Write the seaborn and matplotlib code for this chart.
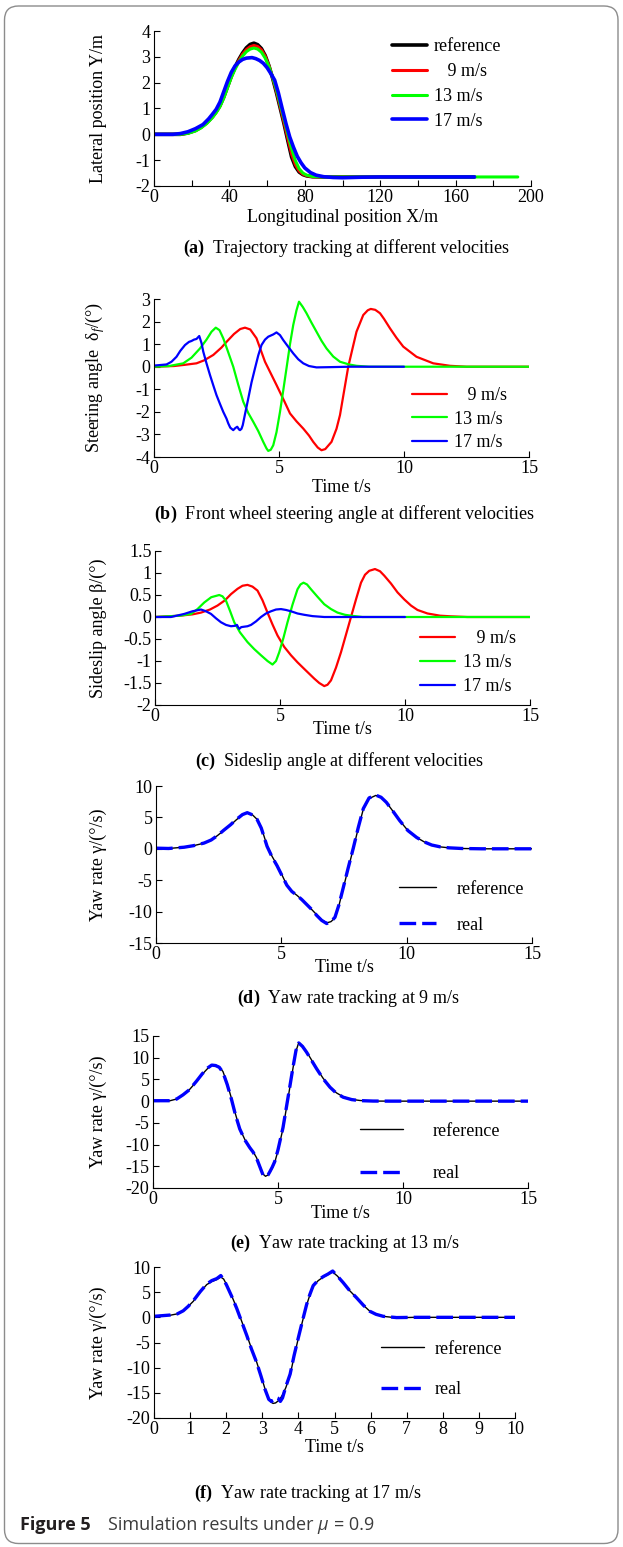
import matplotlib
matplotlib.use('Agg')
import matplotlib.pyplot as plt
import seaborn as sns
from matplotlib.patches import FancyBboxPatch
from matplotlib.transforms import blended_transform_factory

# ---------------- (a) trajectory, X/m vs Y/m
traj_ref_x = [0, 14, 18, 22, 25, 28, 31, 33, 35, 37, 39, 41, 43, 45, 47, 49, 51, 53, 55, 57,
              59, 61, 63, 65, 67, 69, 71, 73, 75, 77, 79, 81, 84, 90, 170]
traj_ref_y = [0, 0, 0.05, 0.15, 0.28, 0.45, 0.68, 0.88, 1.12, 1.45, 1.85, 2.25, 2.6, 2.9, 3.15, 3.35, 3.48, 3.53, 3.47, 3.32,
              3.05, 2.65, 2.15, 1.6, 1.0, 0.4, -0.25, -0.88, -1.25, -1.46, -1.56, -1.61, -1.64, -1.65, -1.65]
traj_9_x = [0, 14, 18, 22, 25, 28, 31, 33, 35, 37, 39, 41, 43, 45, 47, 49, 51, 53, 55, 57,
            59, 61, 63, 65, 67, 69, 71, 73, 75, 77, 79, 81, 84, 90, 135]
traj_9_y = [0, 0, 0.05, 0.15, 0.27, 0.44, 0.67, 0.86, 1.1, 1.43, 1.83, 2.22, 2.57, 2.86, 3.1, 3.28, 3.39, 3.44, 3.4, 3.27,
            3.02, 2.65, 2.18, 1.65, 1.06, 0.46, -0.16, -0.76, -1.17, -1.42, -1.54, -1.6, -1.64, -1.65, -1.65]
traj_13_x = [0, 14, 18, 22, 25, 28, 31, 33, 35, 37, 39, 41, 43, 45, 47, 49, 51, 53, 55, 57,
             59, 61, 63, 65, 67, 69, 71, 73, 75, 77, 79, 81, 84, 90, 193]
traj_13_y = [0, 0, 0.04, 0.13, 0.25, 0.42, 0.65, 0.84, 1.07, 1.4, 1.8, 2.2, 2.52, 2.8, 3.03, 3.2, 3.3, 3.34, 3.3, 3.18,
             2.95, 2.62, 2.2, 1.72, 1.15, 0.58, 0.0, -0.55, -1.02, -1.33, -1.5, -1.58, -1.63, -1.65, -1.65]
traj_17_x = [0, 10, 14, 18, 22, 26, 29, 31, 33, 35, 37, 39, 41, 43, 45, 47, 49, 52, 54, 56,
             58, 60, 62, 64, 66, 68, 70, 72, 74, 76, 78, 80, 83, 86, 90, 95, 100, 110, 120, 170]
traj_17_y = [0, 0, 0.03, 0.1, 0.22, 0.38, 0.6, 0.78, 0.97, 1.25, 1.65, 2.05, 2.4, 2.65, 2.8, 2.9, 2.95, 2.97, 2.93, 2.86,
             2.75, 2.58, 2.35, 2.1, 1.6, 1.0, 0.42, -0.1, -0.5, -0.85, -1.1, -1.3, -1.48, -1.58, -1.64, -1.67, -1.68, -1.66, -1.65, -1.65]

# ---------------- (b) front wheel steering angle
steer9_t = [0, 0.8, 1.2, 1.7, 2.0, 2.37, 2.7, 2.9, 3.2, 3.45, 3.64, 3.85, 4.1, 4.44, 4.9, 5.2, 5.44, 5.7, 5.97, 6.2,
            6.37, 6.55, 6.7, 6.85, 7.1, 7.3, 7.44, 7.6, 7.77, 7.95, 8.1, 8.37, 8.55, 8.67, 8.85, 9.04, 9.2, 9.44, 9.7, 9.97,
            10.5, 11.17, 11.84, 12.5, 15]
steer9_v = [0, 0.03, 0.08, 0.15, 0.28, 0.52, 0.85, 1.1, 1.45, 1.67, 1.73, 1.65, 1.26, 0.22, -0.81, -1.5, -2.07, -2.42, -2.74, -3.05,
            -3.33, -3.58, -3.7, -3.65, -3.33, -2.75, -2.14, -1.1, 0.0, 0.85, 1.55, 2.29, 2.5, 2.56, 2.52, 2.37, 2.12, 1.7, 1.28, 0.89,
            0.44, 0.15, 0.04, 0.0, 0.0]
steer13_t = [0, 0.6, 1.17, 1.5, 1.84, 2.1, 2.3, 2.47, 2.62, 2.77, 2.95, 3.17, 3.37, 3.57, 3.77, 3.97, 4.17, 4.37, 4.5, 4.57,
             4.67, 4.77, 4.9, 5.04, 5.17, 5.3, 5.44, 5.57, 5.7, 5.8, 5.95, 6.1, 6.3, 6.5, 6.7, 6.9, 7.17, 7.44, 7.8, 8.1,
             8.6, 15]
steer13_v = [0, 0.03, 0.15, 0.4, 0.81, 1.2, 1.55, 1.73, 1.62, 1.26, 0.7, 0.0, -0.8, -1.55, -2.05, -2.44, -2.85, -3.33, -3.62, -3.73,
             -3.68, -3.48, -2.9, -2.0, -1.05, -0.07, 1.0, 1.85, 2.5, 2.88, 2.65, 2.37, 1.95, 1.55, 1.15, 0.81, 0.45, 0.22, 0.1, 0.04,
             0.0, 0.0]
steer17_t = [0, 0.5, 0.7, 0.9, 1.05, 1.24, 1.4, 1.5, 1.6, 1.7, 1.81, 1.9, 1.97, 2.1, 2.24, 2.37, 2.5, 2.64, 2.77, 2.9,
             2.97, 3.05, 3.17, 3.25, 3.33, 3.4, 3.44, 3.5, 3.55, 3.65, 3.77, 3.9, 4.04, 4.17, 4.3, 4.44, 4.57, 4.77, 4.9, 5.04,
             5.17, 5.37, 5.57, 5.77, 5.97, 6.2, 6.5, 7.0, 7.84, 10]
steer17_v = [0.05, 0.1, 0.22, 0.44, 0.7, 0.96, 1.1, 1.14, 1.2, 1.23, 1.36, 1.05, 0.67, 0.15, -0.37, -0.82, -1.26, -1.65, -2.0, -2.3,
             -2.51, -2.7, -2.81, -2.72, -2.66, -2.78, -2.81, -2.75, -2.59, -2.05, -1.41, -0.7, -0.07, 0.5, 0.96, 1.2, 1.33, 1.43, 1.52, 1.4,
             1.18, 0.88, 0.59, 0.33, 0.15, 0.03, -0.03, -0.02, 0.0, 0.0]

# ---------------- (c) sideslip angle
slip9_t = [0, 1.0, 1.5, 1.84, 2.2, 2.5, 2.8, 3.04, 3.3, 3.5, 3.7, 3.9, 4.1, 4.3, 4.5, 4.7, 4.9, 5.17, 5.44, 5.7,
           5.97, 6.17, 6.37, 6.57, 6.77, 6.9, 7.04, 7.24, 7.44, 7.64, 7.84, 8.04, 8.24, 8.4, 8.57, 8.8, 9.0, 9.17, 9.44, 9.7,
           9.97, 10.24, 10.5, 10.9, 11.4, 11.84, 12.5, 15]
slip9_v = [0, 0.03, 0.06, 0.1, 0.17, 0.26, 0.38, 0.52, 0.64, 0.71, 0.73, 0.69, 0.6, 0.38, 0.1, -0.17, -0.42, -0.68, -0.87, -1.03,
           -1.18, -1.29, -1.4, -1.5, -1.57, -1.54, -1.44, -1.15, -0.8, -0.4, 0.0, 0.4, 0.78, 0.96, 1.05, 1.09, 1.04, 0.94, 0.76, 0.56,
           0.4, 0.26, 0.16, 0.08, 0.03, 0.015, 0.0, 0.0]
slip13_t = [0, 1.0, 1.44, 1.7, 1.97, 2.25, 2.57, 2.7, 2.84, 3.0, 3.17, 3.4, 3.7, 3.97, 4.24, 4.5, 4.7, 4.84, 4.97, 5.14,
            5.3, 5.5, 5.7, 5.82, 5.94, 6.08, 6.24, 6.5, 6.77, 7.04, 7.3, 7.6, 7.84, 8.3, 15]
slip13_v = [0, 0.03, 0.07, 0.18, 0.33, 0.45, 0.5, 0.47, 0.37, 0.14, -0.12, -0.35, -0.57, -0.73, -0.87, -1.0, -1.08, -1.0, -0.8, -0.47,
            -0.12, 0.28, 0.63, 0.74, 0.78, 0.74, 0.63, 0.46, 0.29, 0.18, 0.1, 0.05, 0.03, 0.0, 0.0]
slip17_t = [0, 0.64, 1.17, 1.5, 1.84, 2.04, 2.24, 2.44, 2.64, 2.84, 3.04, 3.2, 3.28, 3.33, 3.37, 3.45, 3.57, 3.7, 3.84, 4.04,
            4.24, 4.44, 4.64, 4.84, 5.04, 5.24, 5.44, 5.7, 5.97, 6.3, 6.77, 10]
slip17_v = [0, 0.0, 0.07, 0.13, 0.17, 0.13, 0.07, -0.03, -0.12, -0.18, -0.21, -0.2, -0.18, -0.24, -0.27, -0.23, -0.22, -0.21, -0.18, -0.1,
            0.0, 0.08, 0.13, 0.17, 0.18, 0.16, 0.13, 0.08, 0.05, 0.02, 0.0, 0.0]

# ---------------- (d) yaw rate at 9 m/s
yaw9_t = [0, 0.5, 1.12, 1.5, 1.92, 2.2, 2.45, 2.7, 2.98, 3.2, 3.45, 3.64, 3.85, 4.03, 4.2, 4.43, 4.63, 4.83, 5.03, 5.22,
          5.42, 5.62, 5.82, 6.02, 6.22, 6.41, 6.61, 6.81, 6.98, 7.14, 7.3, 7.47, 7.67, 7.87, 8.07, 8.27, 8.5, 8.77, 8.98, 9.19,
          9.45, 9.72, 10.05, 10.4, 10.7, 11.0, 11.35, 11.7, 12.2, 13, 15]
yaw9_ref = [0, 0.05, 0.26, 0.5, 0.9, 1.4, 2.1, 2.9, 3.8, 4.6, 5.4, 5.7, 5.4, 4.7, 3.4, 0.5, -1.2, -2.6, -4.2, -5.8,
            -6.8, -7.4, -8.1, -8.9, -9.7, -10.5, -11.3, -11.8, -11.6, -11.0, -9.0, -6.3, -3.1, 0.0, 3.3, 6.3, 8.0, 8.5, 8.2, 7.4,
            6.0, 4.5, 2.9, 1.8, 1.1, 0.6, 0.3, 0.15, 0.05, 0.0, 0.0]
yaw9_real = [0.1, 0.05, 0.25, 0.5, 0.92, 1.4, 2.1, 2.95, 3.85, 4.65, 5.45, 5.75, 5.4, 4.7, 3.3, 0.4, -1.3, -2.7, -4.3, -5.8,
             -6.8, -7.4, -8.1, -8.9, -9.7, -10.6, -11.4, -11.9, -11.6, -10.9, -8.9, -6.2, -3.0, 0.1, 3.4, 6.4, 8.1, 8.55, 8.2, 7.4,
             6.0, 4.5, 2.9, 1.8, 1.1, 0.6, 0.3, 0.15, 0.05, 0.0, 0.0]

# ---------------- (e) yaw rate at 13 m/s
yaw13_t = [0, 0.67, 0.95, 1.2, 1.45, 1.74, 1.97, 2.2, 2.35, 2.5, 2.65, 2.8, 2.97, 3.14, 3.3, 3.47, 3.67, 3.87, 4.0, 4.14,
           4.3, 4.4, 4.5, 4.6, 4.67, 4.77, 4.87, 5.0, 5.2, 5.4, 5.6, 5.72, 5.83, 5.98, 6.14, 6.34, 6.54, 6.8, 7.08, 7.34,
           7.61, 7.95, 8.28, 8.8, 9.5, 15]
yaw13_ref = [0, 0.08, 0.5, 1.4, 2.6, 4.5, 6.2, 7.6, 8.2, 8.3, 7.9, 6.8, 4.0, 0.6, -3.0, -6.3, -8.8, -10.6, -11.6, -13.0,
             -15.3, -16.8, -17.3, -17.0, -16.4, -15.4, -14.1, -11.4, -6.3, 0.6, 7.6, 11.5, 13.5, 12.7, 11.4, 9.5, 7.6, 5.3, 3.3, 1.9,
             1.0, 0.4, 0.15, 0.02, 0.0, 0.0]
yaw13_real = [0.1, 0.1, 0.5, 1.45, 2.6, 4.6, 6.3, 7.7, 8.3, 8.2, 7.8, 6.6, 3.8, 0.4, -3.2, -6.4, -8.9, -10.7, -11.7, -13.1,
              -15.5, -17.0, -17.4, -17.0, -16.3, -15.2, -13.9, -11.2, -6.1, 0.8, 7.8, 11.7, 13.4, 12.6, 11.3, 9.4, 7.5, 5.2, 3.2, 1.8,
              0.9, 0.35, 0.12, 0.02, 0.0, 0.0]

# ---------------- (f) yaw rate at 17 m/s
yaw17_t = [0, 0.44, 0.65, 0.81, 0.95, 1.09, 1.28, 1.46, 1.6, 1.74, 1.85, 1.93, 2.01, 2.15, 2.29, 2.43, 2.57, 2.7, 2.84, 2.96,
           3.07, 3.18, 3.25, 3.3, 3.37, 3.44, 3.5, 3.56, 3.65, 3.77, 3.88, 4.0, 4.12, 4.23, 4.32, 4.41, 4.55, 4.69, 4.82, 4.95,
           5.08, 5.24, 5.42, 5.61, 5.8, 5.98, 6.15, 6.35, 6.72, 7.2, 10]
yaw17_ref = [0.3, 0.4, 0.7, 1.3, 2.2, 3.2, 5.0, 6.5, 7.1, 7.5, 8.0, 7.6, 6.5, 4.3, 1.9, -0.8, -3.5, -6.2, -8.8, -11.5,
             -14.1, -16.2, -16.9, -17.1, -17.0, -16.6, -16.1, -15.4, -14.0, -11.5, -7.8, -4.1, -0.6, 2.5, 4.5, 6.2, 7.3, 8.0, 8.5, 9.0,
             8.2, 6.9, 5.3, 3.9, 2.4, 1.2, 0.6, 0.2, -0.1, 0.0, 0.0]
yaw17_real = [0.2, 0.45, 0.7, 1.3, 2.2, 3.3, 5.1, 6.6, 7.3, 7.7, 8.3, 7.5, 6.4, 4.2, 1.8, -0.9, -3.6, -6.3, -8.9, -11.6,
              -14.2, -16.3, -16.7, -16.5, -15.9, -16.1, -16.7, -16.0, -13.8, -11.3, -7.6, -4.0, -0.5, 2.6, 4.6, 6.3, 7.4, 8.1, 8.6, 9.2,
              8.2, 6.9, 5.3, 3.9, 2.4, 1.2, 0.6, 0.2, -0.05, 0.0, 0.0]

speed_labels = ['   9 m/s', '13 m/s', '17 m/s']
yaw_labels = ['reference', 'real']

captions = [r'$\mathbf{(a)}$  Trajectory tracking at different velocities',
            r'$\mathbf{(b)}$  Front wheel steering angle at different velocities',
            r'$\mathbf{(c)}$  Sideslip angle at different velocities',
            r'$\mathbf{(d)}$  Yaw rate tracking at 9 m/s',
            r'$\mathbf{(e)}$  Yaw rate tracking at 13 m/s',
            r'$\mathbf{(f)}$  Yaw rate tracking at 17 m/s']


W, H = 623, 1547
custom_params = {"axes.spines.right": False, "axes.spines.top": False,
                 "axes.edgecolor": "black", "xtick.color": "black", "ytick.color": "black",
                 "axes.labelcolor": "black", "text.color": "black",
                 "xtick.direction": "in", "ytick.direction": "in",
                 "xtick.major.size": 4, "ytick.major.size": 4,
                 "xtick.minor.size": 4, "xtick.major.width": 0.8, "ytick.major.width": 0.8,
                 "axes.linewidth": 0.8}
sns.set_theme(style="ticks", rc=custom_params)
plt.rcParams['font.family'] = ['Liberation Serif', 'DejaVu Serif']
plt.rcParams['mathtext.fontset'] = 'custom'
plt.rcParams['mathtext.rm'] = 'Liberation Serif'
plt.rcParams['mathtext.it'] = 'Liberation Serif:italic'
plt.rcParams['mathtext.bf'] = 'Liberation Serif:bold'
plt.rcParams['axes.unicode_minus'] = False
FS = 13

fig = plt.figure(figsize=(W / 100, H / 100), dpi=100)


def px_axes(l, r, t, b):
    return fig.add_axes([l / W, 1 - b / H, (r - l) / W, (b - t) / H])


def finish(ax, xlim, xticks, ylim, yticks, xlabel, ylabel, xlab_top):
    ax.set_xlim(xlim)
    ax.set_ylim(ylim)
    ax.set_xticks(xticks, [f'{v:g}' for v in xticks])
    ax.set_yticks(yticks, [f'{v:g}' for v in yticks])
    ax.tick_params(labelsize=FS, pad=2.5)
    ax.set_xlabel(xlabel, fontsize=FS)
    ax.set_ylabel(ylabel, fontsize=FS)
    ax.xaxis.set_label_coords(0.5, 1 - xlab_top / H,
                              transform=blended_transform_factory(ax.transAxes, fig.transFigure))
    ax.yaxis.set_label_coords(107 / W, 0.5,
                              transform=blended_transform_factory(fig.transFigure, ax.transAxes))


def legend(ax, hx, cy, hl, tp, ls):
    ax.legend(loc='center left', bbox_to_anchor=(hx, cy), frameon=False, fontsize=FS,
              handlelength=hl, handletextpad=tp, labelspacing=ls, borderpad=0, borderaxespad=0)


# (a)
ax = px_axes(154, 531, 31, 186)
sns.lineplot(x=traj_ref_x, y=traj_ref_y, color='black', lw=2.6, label='reference', ax=ax)
sns.lineplot(x=traj_9_x, y=traj_9_y, color='#ff0000', lw=2.2, label=speed_labels[0], ax=ax)
sns.lineplot(x=traj_13_x, y=traj_13_y, color='#00ff00', lw=2.2, label=speed_labels[1], ax=ax)
sns.lineplot(x=traj_17_x, y=traj_17_y, color='#0000ff', lw=2.6, label=speed_labels[2], ax=ax)
finish(ax, (0, 200), [0, 40, 80, 120, 160, 200], (-2, 4), [-2, -1, 0, 1, 2, 3, 4],
       'Longitudinal position X/m', 'Lateral position Y/m', 209)
ax.set_xticks([20, 60, 100, 140, 180], minor=True)
ax.tick_params(which='minor', direction='in', length=4, width=0.8)
legend(ax, 0.63, 0.658, 1.95, 0.4, 0.43)

# (b)
ax = px_axes(154, 529, 299, 457)
sns.lineplot(x=steer9_t, y=steer9_v, color='#ff0000', lw=1.6, label=speed_labels[0], ax=ax)
sns.lineplot(x=steer13_t, y=steer13_v, color='#00ff00', lw=1.6, label=speed_labels[1], ax=ax)
sns.lineplot(x=steer17_t, y=steer17_v, color='#0000ff', lw=1.6, label=speed_labels[2], ax=ax)
finish(ax, (0, 15), [0, 5, 10, 15], (-4, 3), [-4, -3, -2, -1, 0, 1, 2, 3],
       'Time t/s', r'Steering angle  δ$_{f}$/(°)', 479)
legend(ax, 0.688, 0.24, 1.95, 0.4, 0.36)

# (c)
ax = px_axes(155, 530, 551, 705)
sns.lineplot(x=slip9_t, y=slip9_v, color='#ff0000', lw=1.6, label=speed_labels[0], ax=ax)
sns.lineplot(x=slip13_t, y=slip13_v, color='#00ff00', lw=1.6, label=speed_labels[1], ax=ax)
sns.lineplot(x=slip17_t, y=slip17_v, color='#0000ff', lw=1.6, label=speed_labels[2], ax=ax)
finish(ax, (0, 15), [0, 5, 10, 15], (-2, 1.5), [-2, -1.5, -1, -0.5, 0, 0.5, 1, 1.5],
       'Time t/s', 'Sideslip angle β/(°)', 721)
legend(ax, 0.707, 0.276, 1.95, 0.4, 0.39)

# (d) (e) (f) yaw rate tracking
yaw_panels = [
    ((156, 532, 786, 943), yaw9_t, yaw9_ref, yaw9_real, (0, 15), [0, 5, 10, 15], (-15, 10),
     [-15, -10, -5, 0, 5, 10], 959, (0.645, 0.229, 2.05, 1.16, 1.05)),
    ((153, 528, 1036, 1188), yaw13_t, yaw13_ref, yaw13_real, (0, 15), [0, 5, 10, 15], (-20, 15),
     [-20, -15, -10, -5, 0, 5, 10, 15], 1205, (0.552, 0.234, 2.38, 1.66, 1.42)),
    ((154, 515, 1267, 1418), yaw17_t, yaw17_ref, yaw17_real, (0, 10), list(range(0, 11)), (-20, 10),
     [-20, -15, -10, -5, 0, 5, 10], 1439, (0.629, 0.321, 2.38, 0.6, 1.32)),
]
for box, t, ref, real, xlim, xt, ylim, yt, xl_top, leg in yaw_panels:
    ax = px_axes(*box)
    sns.lineplot(x=t, y=ref, color='black', lw=1.0, label=yaw_labels[0], ax=ax)
    sns.lineplot(x=t, y=real, color='#0000ff', lw=2.4, linestyle=(0, (5, 1.8)),
                 label=yaw_labels[1], ax=ax)
    finish(ax, xlim, xt, ylim, yt, 'Time t/s', 'Yaw rate γ/(°/s)', xl_top)
    legend(ax, *leg)

# panel captions
cap_pos = [(347, 248), (345, 514), (340, 761), (348, 998), (345, 1243), (308, 1493)]
for (cx, cy), txt in zip(cap_pos, captions):
    fig.text(cx / W, 1 - cy / H, txt, ha='center', va='center', fontsize=FS)

# figure caption
fig.text(20 / W, 1 - 1525 / H, 'Figure 5', family='Open Sans', weight='bold', fontsize=13,
         color='#231f20', ha='left', va='center')
fig.text(108 / W, 1 - 1525 / H, 'Simulation results under', family='Open Sans', fontsize=13,
         color='#3c3c3c', ha='left', va='center')
fig.text(317 / W, 1 - 1525 / H, 'μ', family='Open Sans', style='italic', fontsize=13,
         color='#3c3c3c', ha='left', va='center')
fig.text(334 / W, 1 - 1525 / H, '= 0.9', family='Open Sans', fontsize=13,
         color='#3c3c3c', ha='left', va='center')

frame = FancyBboxPatch((0.045, 0.035), 6.135, 15.375, boxstyle='round,pad=0,rounding_size=0.14',
                       transform=fig.dpi_scale_trans, fill=False, edgecolor='#8c8c8c', lw=1.0)
fig.add_artist(frame)

fig.savefig('out.png', dpi=100)
